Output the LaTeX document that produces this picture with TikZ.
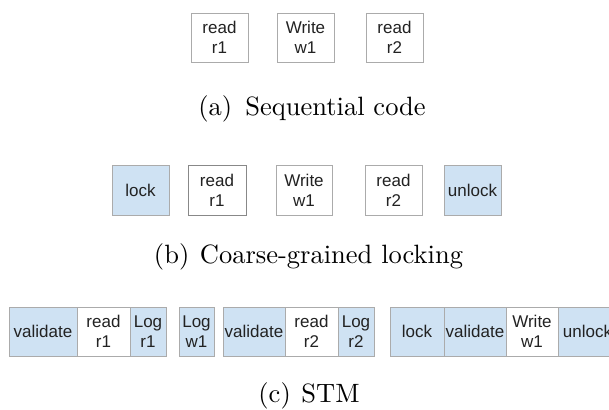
\documentclass[tikz,border=0pt]{standalone}
\usepackage{fontspec}
\newfontfamily\boxfont{Liberation Sans}
\DeclareFontFamily{TU}{lmten}{}
\DeclareFontShape{TU}{lmten}{m}{n}{<-> "[lmroman10-regular]:+tlig;"}{}
\newcommand{\capfont}{\fontfamily{lmten}\fontseries{m}\fontshape{n}}
\definecolor{lblue}{HTML}{CFE2F3}
\definecolor{bgray}{HTML}{ABABAB}
\definecolor{dgray}{HTML}{888888}
\definecolor{tgray}{HTML}{222222}
\begin{document}
\begin{tikzpicture}[x=1pt,y=-1pt,
  box/.style={draw=bgray, line width=0.9pt, fill=white, text=tgray,
    font=\boxfont\fontsize{17}{20}\selectfont, align=center,
    inner sep=0pt, minimum height=49pt},
  bluebox/.style={box, fill=lblue},
  captext/.style={anchor=base, font=\capfont\fontsize{26.5}{30}\selectfont, inner sep=0pt}]
\useasboundingbox (0,0) rectangle (609,409);
% (a)
\node[box, minimum width=57pt] (a1) at (219.5,37.5) {read\\r1};
\node[box, minimum width=57pt] (a2) at (305.5,37.5) {Write\\w1};
\node[box, minimum width=57pt] (a3) at (394.5,37.5) {read\\r2};
\node[captext] (capa) at (312,115) {(a)\hspace{0.5em}Sequential code};
% (b)
\node[bluebox, minimum width=57pt, minimum height=50pt] (b1) at (140.5,190) {lock};
\node[box, minimum width=58pt, minimum height=50pt, draw=dgray] (b2) at (217,190) {read\\r1};
\node[box, minimum width=56pt, minimum height=50pt] (b3) at (304,190) {Write\\w1};
\node[box, minimum width=57pt, minimum height=50pt] (b4) at (393.5,190) {read\\r2};
\node[bluebox, minimum width=57pt, minimum height=50pt] (b5) at (472.5,190) {unlock};
\node[captext] (capb) at (308.5,263) {(b)\hspace{0.4em}Coarse-grained locking};
% (c)
\node[bluebox, minimum width=68pt] (c1) at (43,331.5) {validate};
\node[box, minimum width=53pt] (c2) at (103.5,331.5) {read\\r1};
\node[bluebox, minimum width=36pt] (c3) at (148,331.5) {Log\\r1};
\node[bluebox, minimum width=35pt] (c4) at (196.5,331.5) {Log\\w1};
\node[bluebox, minimum width=62pt] (c5) at (254,331.5) {validate};
\node[box, minimum width=53pt] (c6) at (311.5,331.5) {read\\r2};
\node[bluebox, minimum width=36pt] (c7) at (356,331.5) {Log\\r2};
\node[bluebox, minimum width=54pt] (c8) at (417,331.5) {lock};
\node[bluebox, minimum width=62pt] (c9) at (475,331.5) {validate};
\node[box, minimum width=52pt] (c10) at (532,331.5) {Write\\w1};
\node[bluebox, minimum width=58pt, anchor=west] (c11) at (558,331.5) {unlock};
\node[captext] (capc) at (309,402) {(c)\hspace{0.4em}STM};
\end{tikzpicture}
\end{document}
